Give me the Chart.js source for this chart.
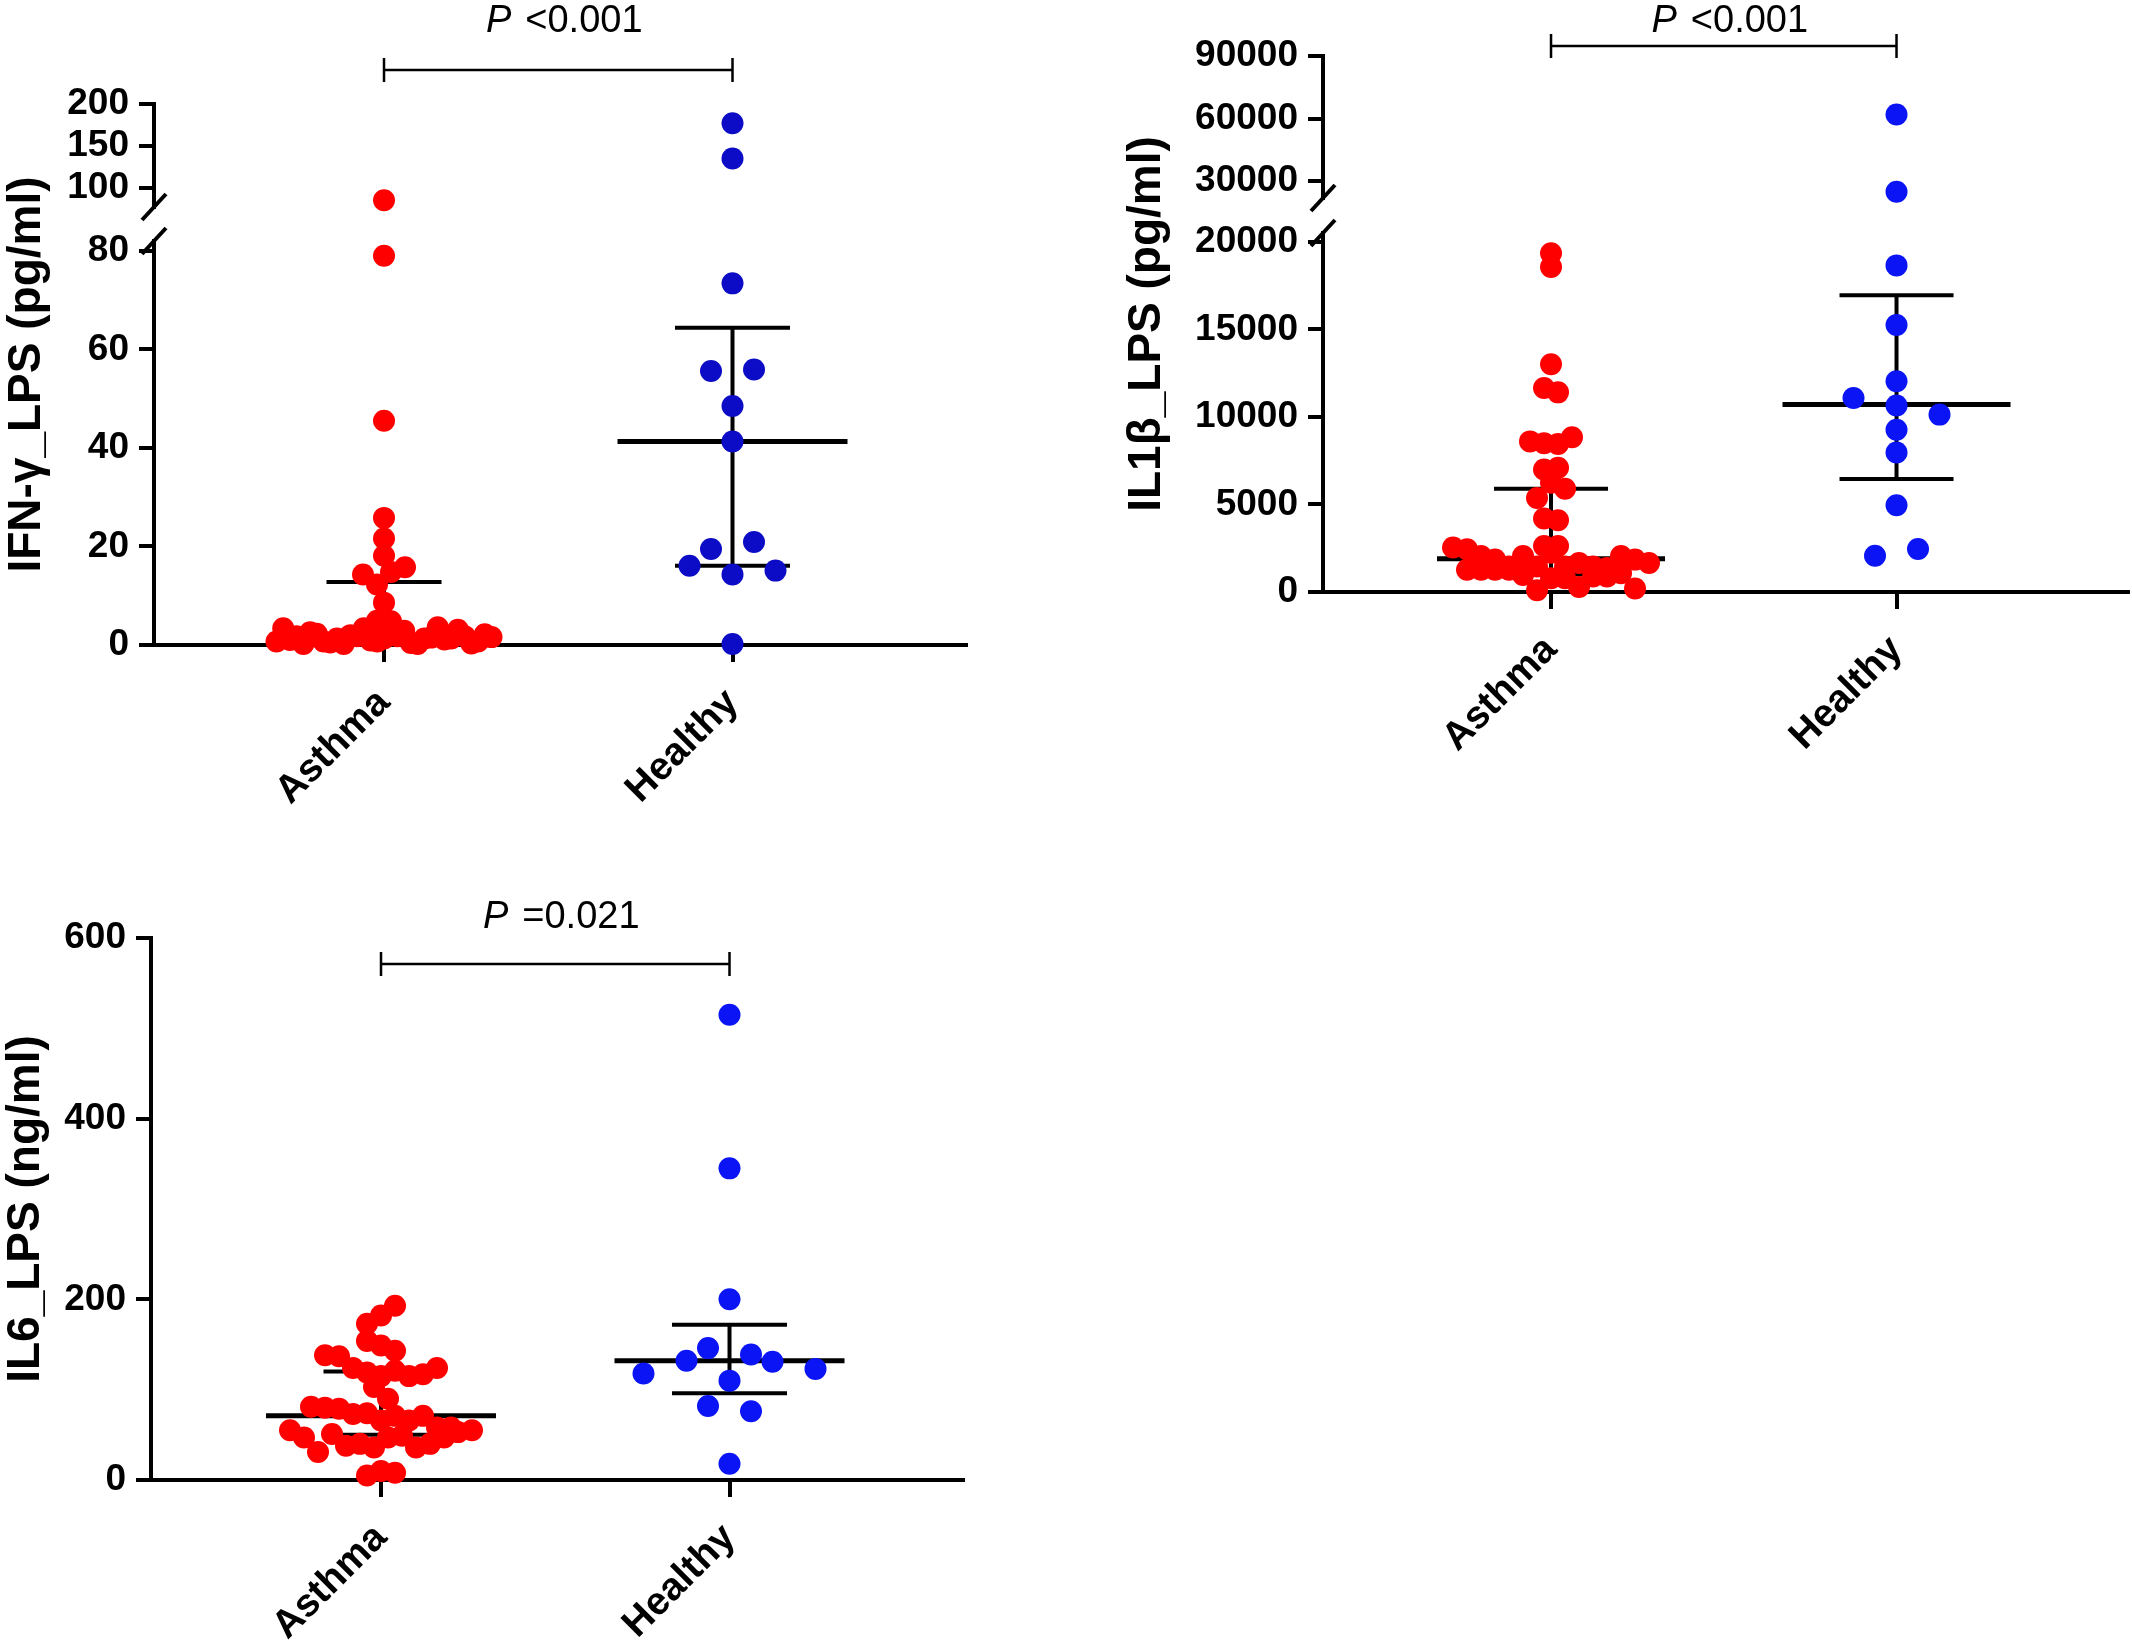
<!DOCTYPE html>
<html>
<head>
<meta charset="utf-8">
<script src="https://cdn.jsdelivr.net/npm/chart.js@4.4.1/dist/chart.umd.min.js"></script>
<style>
  html, body { margin: 0; padding: 0; background: #fff; }
  body { width: 2132px; height: 1641px; position: relative; overflow: hidden; }
  canvas { position: absolute; }
</style>
</head>
<body>
<canvas id="ifn" width="1010" height="830" style="left:0;top:0;width:1010px;height:830px"></canvas>
<canvas id="il1" width="1062" height="830" style="left:1070px;top:0;width:1062px;height:830px"></canvas>
<canvas id="il6" width="1010" height="791" style="left:0;top:850px;width:1010px;height:791px"></canvas>
<script>
'use strict';
const groups = ['Asthma', 'Healthy'];

// IFN-γ_LPS (pg/ml)
const ifnAsthma = [85, 79, 45.5, 25.8, 21.6, 18.1, 14.3, 12.3, 14.8, 15.8, 8.6, 4.9, 4.8,
  0.7, 3.4, 1.0, 1.8, 0.2, 2.6, 2.3, 0.7, 0.5, 1.3, 0.2, 2.0, 1.8, 3.4, 0.9, 0.7, 1.3,
  2.5, 1.8, 2.9, 0.4, 0.2, 1.3, 1.5, 3.6, 1.1, 1.3, 3.1, 1.8, 0.3, 0.7, 2.2, 1.6];
const ifnHealthy = [177, 135, 73.4, 55.6, 55.9, 48.5, 41.3, 19.5, 20.9, 16.1, 14.3, 15.1, 0.2];
const ifnMedian = [1.8, 41.3];
const ifnQ1 = [0.6, 16.1];
const ifnQ3 = [12.8, 64.4];
const ifnTicksLow = [0, 20, 40, 60, 80];
const ifnTicksHigh = [100, 150, 200];
const ifnRangeLow = [0, 82];
const ifnRangeHigh = [77, 200];

// IL1β_LPS (pg/ml)
const il1Asthma = [19340, 18560, 13000, 11650, 11400, 8600, 8500, 8450, 8840, 7000, 7100,
  5370, 6240, 5900, 4200, 4100,
  2630, 2540, 2440, 2630,
  2050, 1270, 1270, 1850, 1460, 2050, 1460, 1270, 2240, 1460, 1660, 1460, 1370, 2050, 1270, 1850, 1660,
  975, 100, 780, 780, 290, 880, 880, 1070, 200];
const il1Healthy = [62000, 25000, 18650, 15250, 12030, 11080, 10650, 10130, 9270, 7970, 4950, 2070, 2450];
const il1Median = [1900, 10700];
const il1Q1 = [1000, 6450];
const il1Q3 = [5900, 16950];
const il1TicksLow = [0, 5000, 10000, 15000, 20000];
const il1TicksHigh = [30000, 60000, 90000];
const il1RangeLow = [0, 20500];
const il1RangeHigh = [22000, 90000];

// IL6_LPS (ng/ml)
const il6Asthma = [173, 182, 193, 138, 137, 154, 149, 143, 124, 119, 115, 121, 115, 117, 124,
  103, 90, 81, 80, 79, 73, 74, 66, 71, 66, 71,
  55, 58, 47, 31, 58, 51, 38, 40, 36, 47, 49, 36, 40, 47, 53, 55, 5, 10, 8];
const il6Healthy = [515, 345, 200, 146, 139, 118, 132, 110, 131, 123, 82, 76, 18];
const il6Median = [71, 132];
const il6Q1 = [50, 96];
const il6Q3 = [120, 172];
const il6Ticks = [0, 200, 400, 600];
const il6Range = [0, 600];

const pValues = ['<0.001', '<0.001', '=0.021'];

const FONT = "'Liberation Sans', Arial, Helvetica, sans-serif";
const MED_HALF = 0.33, IQR_HALF = 0.165;
const ROW_GAP = 12, ROW_SPAN = 22;

// GraphPad-like scatter: points close in height share a row, spread sideways
function swarm(pts, spacing, maxWidth) {
  const idx = pts.map((p, i) => i).sort((a, b) => pts[b].py - pts[a].py);
  const rows = [];
  let row = null;
  idx.forEach(i => {
    if (row && pts[row.last].py - pts[i].py <= ROW_GAP && pts[row.first].py - pts[i].py <= ROW_SPAN) {
      row.items.push(i);
      row.last = i;
    } else {
      row = { first: i, last: i, items: [i] };
      rows.push(row);
    }
  });
  rows.forEach(r => {
    const items = r.items.sort((a, b) => pts[a].k - pts[b].k);
    const n = items.length;
    const step = n > 1 ? Math.min(spacing, maxWidth / (n - 1)) : 0;
    items.forEach((i, j) => { pts[i].off = (j - (n - 1) / 2) * step; });
  });
}

const decor = {
  id: 'decor',
  afterDraw(chart, args, o) {
    const { ctx, chartArea: a, scales } = chart;
    ctx.save();
    ctx.fillStyle = '#000';
    ctx.strokeStyle = '#000';
    // y axis title
    ctx.save();
    ctx.translate(o.titleX, (a.top + a.bottom) / 2);
    ctx.rotate(-Math.PI / 2);
    ctx.font = 'bold 46px ' + FONT;
    ctx.textAlign = 'center';
    ctx.textBaseline = 'alphabetic';
    ctx.fillText(o.title, 0, 0);
    ctx.restore();
    // significance bracket
    const x0 = scales.x.getPixelForValue(0), x1 = scales.x.getPixelForValue(1);
    const by = a.top + o.bracketDy;
    ctx.lineWidth = 2.5;
    ctx.beginPath();
    ctx.moveTo(x0, by); ctx.lineTo(x1, by);
    ctx.moveTo(x0, by - 12); ctx.lineTo(x0, by + 12);
    ctx.moveTo(x1, by - 12); ctx.lineTo(x1, by + 12);
    ctx.stroke();
    ctx.textAlign = 'left';
    ctx.textBaseline = 'alphabetic';
    ctx.font = 'italic 38px ' + FONT;
    const wP = ctx.measureText('P').width + 14;
    ctx.font = '38px ' + FONT;
    const wR = ctx.measureText(o.p).width;
    const tx = (x0 + x1) / 2 - (wP + wR) / 2 + 6, ty = a.top + o.textDy;
    ctx.font = 'italic 38px ' + FONT;
    ctx.fillText('P', tx, ty);
    ctx.font = '38px ' + FONT;
    ctx.fillText(o.p, tx + wP, ty);
    // axis break marks
    if (scales.yHigh) {
      ctx.lineWidth = 4;
      [scales.yHigh.bottom, scales.yLow.top].forEach(y => {
        ctx.beginPath();
        ctx.moveTo(a.left - 12, y + 13);
        ctx.lineTo(a.left + 12, y - 13);
        ctx.stroke();
      });
    }
    ctx.restore();
  }
};

function yAxis(p, ticks, range) {
  return {
    type: 'linear', position: 'left', min: range[0], max: range[1],
    afterBuildTicks: s => { s.ticks = ticks.map(v => ({ value: v })); },
    afterFit: s => { s.width = p.axisW; },
    ticks: { callback: v => String(v), autoSkip: false, color: '#000', padding: 10,
      font: { family: FONT, size: 37, weight: 'bold' } },
    grid: { drawOnChartArea: false, tickLength: 15, lineWidth: 4, color: '#000' },
    border: { width: 4, color: '#000' }
  };
}

function lineSet(data, width) {
  return { type: 'line', data, yAxisID: 'yLow', borderColor: '#000', borderWidth: width,
    borderCapStyle: 'butt', pointRadius: 0, fill: false, order: 1 };
}

function buildPanel(p) {
  const broken = !!p.high;
  const datasets = [];
  [p.asthma, p.healthy].forEach((vals, gi) => {
    const low = [], high = [];
    vals.forEach((v, k) => {
      (broken && v > p.low.range[1] ? high : low).push({ x: gi, y: v, k });
    });
    const sets = broken ? [['yLow', low], ['yHigh', high]] : [['yLow', low]];
    sets.forEach(([axis, data]) => datasets.push({
      type: 'scatter', data, yAxisID: axis, swarmGroup: gi,
      backgroundColor: p.colors[gi], borderWidth: 0, pointRadius: 11, pointHoverRadius: 11,
      clip: false, order: 0
    }));
    datasets.push(lineSet([{ x: gi - MED_HALF, y: p.median[gi] }, { x: gi + MED_HALF, y: p.median[gi] }], 5));
    datasets.push(lineSet([{ x: gi - IQR_HALF, y: p.q3[gi] }, { x: gi + IQR_HALF, y: p.q3[gi] }], 4));
    datasets.push(lineSet([{ x: gi - IQR_HALF, y: p.q1[gi] }, { x: gi + IQR_HALF, y: p.q1[gi] }], 4));
    datasets.push(lineSet([{ x: gi, y: p.q1[gi] }, { x: gi, y: p.q3[gi] }], 4));
  });

  const scales = {
    x: {
      type: 'linear', min: -0.66, max: 1.67,
      afterBuildTicks: s => { s.ticks = groups.map((g, i) => ({ value: i })); },
      afterFit: s => { s.height = p.xAxisH; },
      ticks: { callback: v => groups[v] || '', autoSkip: false, color: '#000', padding: 18,
        minRotation: 45, maxRotation: 45, font: { family: FONT, size: 39, weight: 'bold' } },
      grid: { drawOnChartArea: false, tickLength: 17, lineWidth: 4, color: '#000' },
      border: { width: 4, color: '#000' }
    }
  };
  if (broken) {
    scales.yHigh = Object.assign(yAxis(p, p.high.ticks, p.high.range), { stack: 'y', stackWeight: p.high.px, weight: 2 });
    scales.yGap = {
      type: 'linear', position: 'left', min: 0, max: 1, stack: 'y', stackWeight: p.gapPx, weight: 1,
      afterFit: s => { s.width = p.axisW; },
      ticks: { display: false }, grid: { display: false }, border: { display: false }
    };
    scales.yLow = Object.assign(yAxis(p, p.low.ticks, p.low.range), { stack: 'y', stackWeight: p.low.px, weight: 0 });
  } else {
    scales.yLow = yAxis(p, p.low.ticks, p.low.range);
  }

  const chart = new Chart(document.getElementById(p.id), {
    type: 'scatter',
    data: { datasets },
    options: {
      responsive: false, animation: false, events: [],
      layout: { autoPadding: false, padding: { left: 0, top: p.pad.top, right: p.pad.right, bottom: 0 } },
      scales,
      plugins: {
        legend: { display: false }, tooltip: { enabled: false },
        decor: { title: p.title, titleX: p.titleX, p: p.p, bracketDy: p.bracketDy, textDy: p.textDy }
      }
    },
    plugins: [decor]
  });

  // spread the dots of each group sideways, in pixel space
  const xs = chart.scales.x;
  const pxPerX = xs.getPixelForValue(1) - xs.getPixelForValue(0);
  groups.forEach((g, gi) => {
    const pts = [];
    chart.data.datasets.filter(d => d.swarmGroup === gi).forEach(d => {
      d.data.forEach(pt => pts.push({ pt, k: pt.k, py: chart.scales[d.yAxisID].getPixelForValue(pt.y), off: 0 }));
    });
    swarm(pts, p.spacing[gi], 215);
    pts.forEach(q => { q.pt.x = gi + q.off / pxPerX; });
  });
  chart.update('none');
  return chart;
}

const panels = [
  { id: 'ifn', title: 'IFN-γ_LPS (pg/ml)', asthma: ifnAsthma, healthy: ifnHealthy,
    median: ifnMedian, q1: ifnQ1, q3: ifnQ3,
    low: { ticks: ifnTicksLow, range: ifnRangeLow, px: 404 },
    high: { ticks: ifnTicksHigh, range: ifnRangeHigh, px: 103 }, gapPx: 34,
    p: pValues[0], colors: ['#ff0000', '#0c0cc6'], spacing: [14, 43],
    axisW: 154, pad: { top: 104, right: 44 }, xAxisH: 185, titleX: 40, bracketDy: -34, textDy: -72 },
  { id: 'il1', title: 'IL1β_LPS (pg/ml)', asthma: il1Asthma, healthy: il1Healthy,
    median: il1Median, q1: il1Q1, q3: il1Q3,
    low: { ticks: il1TicksLow, range: il1RangeLow, px: 359 },
    high: { ticks: il1TicksHigh, range: il1RangeHigh, px: 142 }, gapPx: 35,
    p: pValues[1], colors: ['#ff0000', '#0a14f5'], spacing: [14, 43],
    axisW: 253, pad: { top: 56, right: 4 }, xAxisH: 238, titleX: 90, bracketDy: -10, textDy: -24 },
  { id: 'il6', title: 'IL6_LPS (ng/ml)', asthma: il6Asthma, healthy: il6Healthy,
    median: il6Median, q1: il6Q1, q3: il6Q3,
    low: { ticks: il6Ticks, range: il6Range },
    p: pValues[2], colors: ['#ff0000', '#0a14f5'], spacing: [14, 43],
    axisW: 151, pad: { top: 88, right: 47 }, xAxisH: 161, titleX: 39, bracketDy: 26, textDy: -10 }
];

panels.forEach(buildPanel);
</script>
</body>
</html>
